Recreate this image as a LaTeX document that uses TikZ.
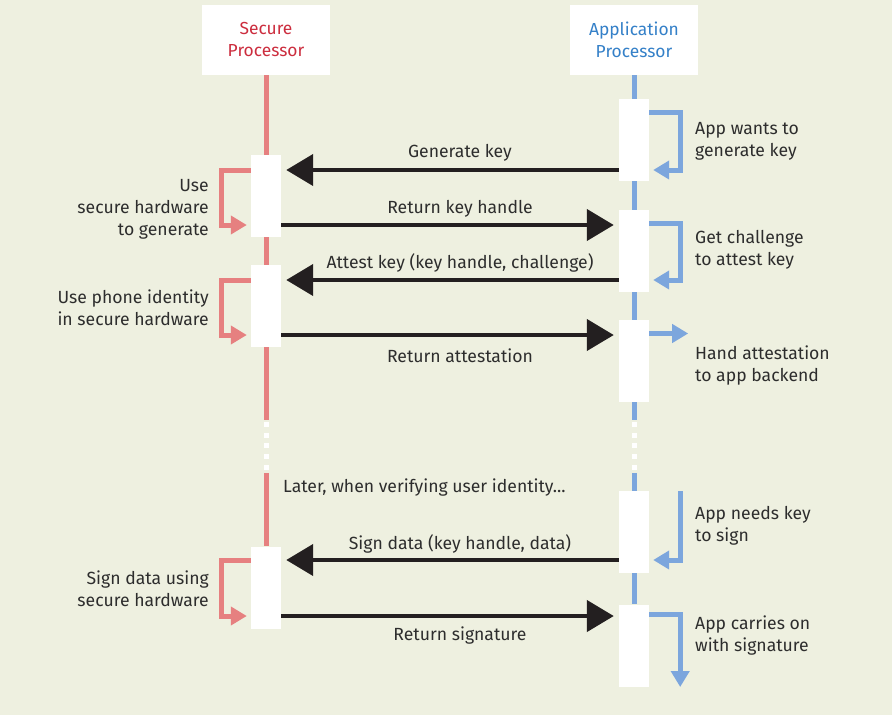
\documentclass[tikz,border=0pt]{standalone}
\usepackage{fontspec}
\setmainfont{Fira Sans}
\usepackage{tikz}
\usetikzlibrary{arrows.meta,positioning,calc,backgrounds}
\usepackage{xcolor}
\definecolor{bgcol}{RGB}{238,240,224}
\definecolor{seccol}{RGB}{204,45,62}
\definecolor{appcol}{RGB}{52,128,200}
\definecolor{secline}{RGB}{230,128,128}
\definecolor{appline}{RGB}{124,166,221}
\definecolor{msgcol}{RGB}{35,31,32}
\definecolor{txtcol}{RGB}{45,45,45}
\tikzset{
  % header box on top of a lifeline
  headbox/.style={fill=white, minimum width=128pt, minimum height=70pt, align=center,
                  inner sep=0pt, font=\fontsize{17.4}{22}\selectfont, text=#1},
  % activation bar
  actbox/.style={fill=white, minimum width=30pt, minimum height=82pt, inner sep=0pt},
  % lifeline
  lifeline/.style={line width=5pt, #1},
  % broken part of a lifeline
  gapline/.style={line width=5pt, white, dash pattern=on 5pt off 5.7pt},
  % message between processors
  msgarrow/.style={-{Triangle[length=27pt,width=31pt]}, line width=4.5pt, msgcol, shorten >=5pt},
  % arrow of a processor to itself
  selfarrow/.style={-{Triangle[length=16pt,width=18pt]}, line width=5pt, #1, shorten >=4pt},
  % label of a message
  msglabel/.style={font=\fontsize{17.6}{22}\selectfont, text=txtcol, inner sep=0pt},
  % side text
  sidenote/.style={font=\fontsize{17.6}{22}\selectfont, text=txtcol, inner sep=0pt, align=#1},
  sidenote/.default={left},
}

\begin{document}
\begin{tikzpicture}[x=1pt, y=-1pt]
  \useasboundingbox (0,0) rectangle (892,715);
  % headers
  \node[headbox=seccol] (sphead) at (266,39.5) {Secure\\Processor};
  \node[headbox=appcol] (aphead) at (634,39.5) {Application\\Processor};
  % activation bars
  \node[actbox] (s1) at (266,196) {};
  \node[actbox] (s2) at (266,306) {};
  \node[actbox] (s3) at (266,587.5) {};
  \node[actbox] (a1) at (634,140) {};
  \node[actbox] (a2) at (634,251) {};
  \node[actbox] (a3) at (634,361) {};
  \node[actbox] (a4) at (634,532) {};
  \node[actbox] (a5) at (634,645.5) {};
  % message rows
  \coordinate (m1) at (0,170);
  \coordinate (m2) at (0,225);
  \coordinate (m3) at (0,280);
  \coordinate (m4) at (0,335);
  \coordinate (m5) at (0,560);
  \coordinate (m6) at (0,616);
  % lifelines
  \begin{scope}[on background layer]
    \fill[bgcol] (0,0) rectangle (892,715);
    \draw[lifeline=secline] (sphead.south) -- (266,420);
    \draw[gapline] (266,422) -- (266,470);
    \draw[lifeline=secline] (266,473) -- (s3.north);
    \draw[lifeline=appline] (aphead.south) -- (634,420);
    \draw[gapline] (634,422) -- (634,470);
    \draw[lifeline=appline] (634,473) -- (a5.north);
  \end{scope}
  % messages
  \draw[msgarrow] (a1.west |- m1) -- (s1.east |- m1);
  \draw[msgarrow] (s1.east |- m2) -- (a2.west |- m2);
  \draw[msgarrow] (a2.west |- m3) -- (s2.east |- m3);
  \draw[msgarrow] (s2.east |- m4) -- (a3.west |- m4);
  \draw[msgarrow] (a4.west |- m5) -- (s3.east |- m5);
  \draw[msgarrow] (s3.east |- m6) -- (a5.west |- m6);
  \node[msglabel] (l1) at (460,153) {Generate key};
  \node[msglabel] (l2) at (460,209) {Return key handle};
  \node[msglabel] (l3) at (460,263) {Attest key (key handle, challenge)};
  \node[msglabel] (l4) at (460,356) {Return attestation};
  \node[msglabel] (l5) at (460,544) {Sign data (key handle, data)};
  \node[msglabel] (l6) at (460,636) {Return signature};
  \node[msglabel, anchor=west] (later) at (283,488) {Later, when verifying user identity...};
  % secure processor to itself
  \draw[selfarrow=secline] (s1.west |- m1) -- ++(-29.5,0) |- (s1.west |- m2);
  \draw[selfarrow=secline] (s2.west |- m3) -- ++(-29.5,0) |- (s2.west |- m4);
  \draw[selfarrow=secline] (s3.west |- m5) -- ++(-29.5,0) |- (s3.west |- m6);
  % application processor to itself
  \coordinate (b1) at (0,112);
  \coordinate (b2) at (0,223);
  \coordinate (b3) at (0,333.5);
  \coordinate (b4) at (680,491);
  \coordinate (b5) at (0,614);
  \draw[selfarrow=appline] (a1.east |- b1) -- ++(31,0) |- (a1.east |- m1);
  \draw[selfarrow=appline] (a2.east |- b2) -- ++(31,0) |- (a2.east |- m3);
  \draw[selfarrow=appline, shorten >=0pt] (a3.east |- b3) -- ++(39,0);
  \draw[selfarrow=appline] (b4) |- (a4.east |- m5);
  \draw[selfarrow=appline, shorten >=0pt] (a5.east |- b5) -- ++(31,0) -- ++(0,73);
  % side texts
  \node[sidenote=right, anchor=east] (n1) at (209,209) {Use\\secure hardware\hspace*{4pt}\\to generate};
  \node[sidenote=right, anchor=east] (n2) at (209,308) {Use phone identity\\in secure hardware};
  \node[sidenote=right, anchor=east] (n3) at (209,588.5) {Sign data using\\secure hardware};
  \node[sidenote, anchor=west] (n4) at (695,141) {App wants to\\generate key};
  \node[sidenote, anchor=west] (n5) at (695,250) {Get challenge\\to attest key};
  \node[sidenote, anchor=west] (n6) at (695,366) {Hand attestation\\to app backend};
  \node[sidenote, anchor=west] (n7) at (695,525.5) {App needs key\\to sign};
  \node[sidenote, anchor=west] (n8) at (695,635.5) {App carries on\\with signature};
\end{tikzpicture}
\end{document}
